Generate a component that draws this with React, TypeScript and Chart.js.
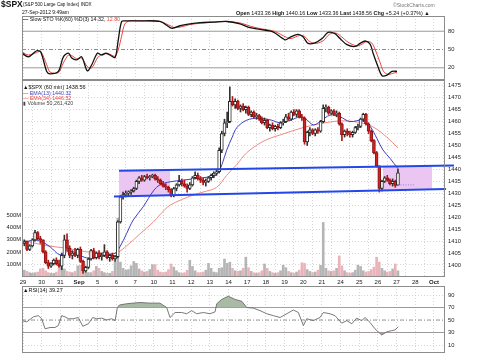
import React, { useEffect, useRef } from "react";
import { Chart, registerables } from "chart.js";
Chart.register(...registerables);

const FONT = '"Liberation Sans", Arial, sans-serif';

const dayLabels = ["29","30","31","Sep","5","6","7","10","11","12","13","14","17","18","19","20","21","24","25","26","27","28","Oct"];
const BARS_PER_DAY = 7;
const XMIN = -0.054;
const XMAX = 22.59;

// 60-minute candles, 7 per day (Aug 29 .. Sep 27 first bar)
const opens = [
  1409,1409.8,1406.5,1408,1410.5,1413.5,1411,
  1410.5,1405.5,1401,1399.5,1400.5,1402,1400.5,
  1399.5,1404,1410.5,1407,1404,1405,1404,
  1406.5,1401.5,1397.5,1399,1402.5,1406,1403,
  1405,1403.5,1404,1405.5,1403,1404,1402.5,
  1403.5,1418,1428.5,1429.5,1430,1430.5,1431,
  1432,1435,1436.5,1435.5,1437,1436.5,1437,
  1437.5,1436,1435.5,1434,1433,1432.5,1431.5,
  1429,1432,1433.5,1435,1434,1433,1432,
  1433.5,1436.5,1437.5,1436,1435.5,1434.5,1435,
  1436.5,1437.5,1438.5,1439,1448,1455,1459.5,
  1460,1468.5,1467,1468.5,1465.5,1466.5,1465,
  1466,1463,1464,1462,1462.5,1461,1459.5,
  1460.5,1457.5,1458.5,1457,1458,1457.5,1459.5,
  1460,1462,1461,1464,1463,1464.5,1462,
  1461.5,1451.5,1455.5,1456.5,1455,1456.5,1456,
  1460,1465.5,1466,1463.5,1464.5,1463,1463.5,
  1459,1454.5,1456,1455,1454.5,1455.5,1457.5,
  1458,1461,1463,1459,1456,1452,1447,
  1441.5,1432,1435,1436.5,1435.5,1434,1435,
  1433.36
];
const highs = [
  1410.5,1410,1408.5,1411,1414.5,1414,1412,
  1410.5,1406,1402,1401,1402.5,1403,1402,
  1405,1412.5,1413,1408,1406,1407,1407,
  1407.5,1402,1399.5,1403,1406.5,1407,1405.5,
  1406,1405,1408.5,1406,1404.5,1405,1404,
  1418.5,1429,1430.5,1431,1431,1431.5,1432.5,
  1435.5,1437,1437.5,1437.5,1438,1437.5,1438,
  1438,1437,1436,1435,1434,1433,1432,
  1432.5,1434,1437.5,1436,1435.5,1434,1434.5,
  1437,1439,1438.5,1437,1436.5,1436,1437,
  1438,1439,1440,1449,1456,1461,1464,
  1474.5,1470.5,1469.5,1469,1467,1467.5,1466.5,
  1466.5,1464.5,1464.5,1463.5,1463,1462,1461.5,
  1461,1459,1459.5,1458.5,1459,1460,1461,
  1463,1463.5,1464.5,1465,1465,1465,1463,
  1462,1456,1457.5,1457,1457,1457.5,1460.5,
  1467,1467,1466.5,1465,1465,1464.5,1464,
  1459.5,1456.5,1457,1456,1456,1458,1459,
  1461.5,1463.5,1463.5,1459.5,1456.5,1452.5,1447.5,
  1441.5,1435.5,1437,1437.5,1436,1436,1435.5,
  1440.16
];
const lows = [
  1408,1406,1406,1407.5,1410,1410.5,1409,
  1405,1400.5,1398.5,1399,1400,1400,1399,
  1398,1403,1406,1403,1402.5,1403.5,1403,
  1401,1396.5,1397,1398.5,1402,1402.5,1402.5,
  1402.5,1402,1403.5,1402.5,1401.5,1402,1401.5,
  1403,1417.5,1427.5,1428.5,1429,1429.5,1430.5,
  1431.5,1434,1435,1435,1436,1435.5,1436.5,
  1435.5,1434.5,1433.5,1432.5,1431.5,1430.5,1428.5,
  1428.5,1431,1433,1433,1432.5,1430.5,1431.5,
  1433,1436,1435.5,1434.5,1433.5,1433,1434.5,
  1435.5,1436.5,1437.5,1438.5,1447,1454,1457.5,
  1459.5,1466.5,1465.5,1465,1464,1464.5,1463.5,
  1462.5,1462,1461.5,1461,1460.5,1459,1458.5,
  1457,1456,1456.5,1456,1456.5,1457,1458.5,
  1459.5,1460.5,1460.5,1462.5,1462,1461.5,1460.5,
  1450.5,1450,1454,1454.5,1454,1455,1455.5,
  1459.5,1464,1463,1463,1462.5,1462,1458.5,
  1452,1453.5,1454,1453.5,1453.5,1455,1456.5,
  1457.5,1460,1458.5,1455,1451.5,1446.5,1441,
  1430.5,1431,1434.5,1435,1433.5,1433,1432.5,
  1433.36
];
const closes = [
  1409.8,1406.5,1408,1410.5,1413.5,1411,1410.5,
  1405.5,1401,1399.5,1400.5,1402,1400.5,1399.5,
  1404,1410.5,1407,1404,1405,1404,1406.5,
  1401.5,1397.5,1399,1402.5,1406,1403,1405,
  1403.5,1404,1405.5,1403,1404,1402.5,1403.5,
  1418,1428.5,1429.5,1430,1430.5,1431,1432,
  1435,1436.5,1435.5,1437,1436.5,1437,1437.5,
  1436,1435.5,1434,1433,1432.5,1431.5,1429,
  1432,1433.5,1435,1434,1433,1432,1433.5,
  1436.5,1437.5,1436,1435.5,1434.5,1435,1436.5,
  1437.5,1438.5,1439,1448,1455,1459.5,1460,
  1468.5,1467,1468.5,1465.5,1466.5,1465,1466,
  1463,1464,1462,1462.5,1461,1459.5,1460.5,
  1457.5,1458.5,1457,1458,1457.5,1459.5,1460,
  1462,1461,1464,1463,1464.5,1462,1461.5,
  1451.5,1455.5,1456.5,1455,1456.5,1456,1460,
  1465.5,1466,1463.5,1464.5,1463,1463.5,1459,
  1454.5,1456,1455,1454.5,1455.5,1457.5,1458,
  1461,1463,1459,1456,1452,1447,1441.5,
  1432,1435,1436.5,1435.5,1434,1435,1433.3,
  1438.56
];
// volume in millions
const volumes = [
  55,45,35,30,35,40,65,
  70,50,35,30,30,40,70,
  110,65,45,40,35,45,90,
  95,60,45,35,35,50,85,
  70,45,35,30,30,45,120,
  475,120,70,55,60,90,125,
  110,65,50,40,45,60,100,
  100,55,40,35,40,60,105,
  80,50,35,30,35,55,135,
  85,50,35,35,40,55,110,
  70,40,35,70,75,145,110,
  120,70,50,45,50,70,160,
  75,45,35,30,35,50,105,
  70,45,35,30,35,50,95,
  75,45,35,30,40,55,115,
  110,60,45,35,40,55,95,
  440,70,50,45,50,70,170,
  90,50,35,30,35,55,95,
  85,50,40,45,60,80,160,
  120,70,50,40,45,65,105,
  50
];

const ema13X = [-0.07,0.55,1.0,1.45,1.98,2.34,2.69,3.05,3.5,3.95,4.48,4.93,5.19,5.55,5.9,6.44,6.98,7.33,7.87,8.58,9.3,10.01,10.37,10.65,10.9,11.2,11.45,11.98,12.6,13.3,13.75,14.3,14.83,15.1,15.54,15.9,16.44,16.97,17.5,18.22,18.6,18.94,19.27,19.65,20.07];
const ema13 = [1409,1410.4,1409.7,1407.6,1404.2,1405.5,1405.5,1404,1402.8,1403.2,1404.2,1404.9,1407.6,1413.2,1418.8,1424.4,1431,1433.5,1434.8,1435.5,1436.2,1436.9,1437.8,1442,1448,1453.5,1457.5,1460.6,1461.4,1460.6,1459.5,1460.5,1462,1461.4,1458.6,1460,1462.7,1462,1460,1460.6,1457.8,1453,1448.1,1444.6,1440.3];
const ema34X = [0.02,1.09,2.34,3.41,4.48,5.02,5.55,6.26,6.98,7.33,7.87,9.12,9.64,10.37,10.9,11.44,11.98,12.69,13.22,13.76,15.0,16.17,17.15,18.22,18.84,19.47,20.07];
const ema34 = [1410.4,1408.3,1407,1405.5,1404.9,1405.1,1408,1413,1418,1421,1425,1429.3,1430.5,1432.5,1437.5,1442,1447,1451,1453,1454.4,1457.5,1459.5,1460.3,1459.3,1457.3,1453.5,1449];

const upperChannelX = [5.14, 23.07];
const upperChannel = [1439.4, 1441.6];
const lowerChannelX = [4.87, 22.64];
const lowerChannel = [1428.6, 1431.8];
const leftBoxX = [5.14, 7.87];
const leftBoxTop = [1439.4, 1439.7];
const leftBoxBottom = [1428.7, 1429.2];
const rightBoxX = [19.27, 21.9];
const rightBoxTop = [1441.1, 1441.4];
const rightBoxBottom = [1431.5, 1431.8];
const pivotX = [20.07, 20.98];
const pivot = [1433.5, 1433.5];

const priceTicks = [1400,1405,1410,1415,1420,1425,1430,1435,1440,1445,1450,1455,1460,1465,1470,1475];
const volumeTicks = [100,200,300,400,500];

const stoX = [-0.05,0.29,0.73,0.95,1.27,1.45,1.89,2.16,2.43,2.61,2.87,3.14,3.44,3.68,3.98,4.21,4.44,4.66,4.93,5.1,5.28,5.5,6.26,7.33,7.87,8.03,8.4,8.94,9.48,10.17,10.92,11.62,12.15,12.69,13.38,14.03,14.29,14.72,14.99,15.26,15.63,16.01,16.33,16.7,16.97,17.34,17.77,18.04,18.31,18.58,18.74,19.0,19.22,19.49,19.75,20.02];
const stoK = [44,38,48,46,14,10,14,38,44,36,33,38,15,25,44,41,44,41,37,66,96,97,97,96,86,85,89,92,94,95,96,92,86,83,79,66,70,75,71,60,61,68,78,76,68,58,55,60,64,59,44,22,7,8,14,14.32];
const stoDX = [-0.05,0.29,0.73,0.95,1.27,1.45,1.89,2.16,2.43,2.61,2.87,3.14,3.44,3.68,3.98,4.21,4.44,4.66,4.93,5.1,5.28,5.45,5.7,6.26,7.33,7.95,8.1,8.45,8.94,9.48,10.17,10.92,11.7,12.2,12.75,13.45,14.1,14.35,14.8,15.05,15.35,15.7,16.1,16.4,16.75,17.05,17.4,17.85,18.1,18.4,18.66,18.85,19.1,19.3,19.55,19.8,20.02];
const stoD = [46,41,45,47,25,13,12,28,41,40,35,36,22,20,36,42,43,42,39,50,72,92,97,97,96,88,86,87,91,93,95,96,93,88,84,80,70,68,73,72,63,60,65,75,77,71,62,56,58,63,61,50,30,14,9,11,12.8];
const stoTicks = [20,50,80];
const stoLevels = [80,50,20];

const rsiX = [-0.05,0.2,0.55,0.82,1.0,1.18,1.45,1.71,1.89,2.07,2.25,2.43,2.69,2.96,3.2,3.5,3.73,3.95,4.21,4.48,4.75,4.93,5.05,5.16,5.55,6.26,6.8,7.33,7.69,7.87,8.14,8.5,8.76,9.03,9.3,9.65,10.01,10.28,10.37,10.64,10.99,11.35,11.71,11.98,12.33,12.69,13.05,13.4,13.76,14.12,14.47,14.74,15.01,15.19,15.54,15.9,16.08,16.43,16.7,17.06,17.33,17.6,17.86,18.13,18.31,18.58,18.84,19.2,19.47,19.74,19.91,20.09];
const rsi = [49,47,55,57,52,36,38,38,41,57,55,52,52,54,40,44,54,52,53,50,52,49,70,74,76,78,77,77,70,54,62,62,60,65,60,62,60,63,76,83,88,83,80,70,69,65,60,57,54,60,66,62,41,52,49,54,62,60,57,45,49,44,53,49,54,46,36,26,31,33,34,39.27];
const rsiTicks = [10,30,50,70,90];
const rsiLevels = [70,50,30];

const pts = (xs: number[], ys: number[]) => xs.map((x, i) => ({ x, y: ys[i] }));

const framePlugin = {
  id: "frame",
  afterDraw(chart: any) {
    const { ctx, chartArea } = chart;
    ctx.save();
    ctx.strokeStyle = "#8c8c8c";
    ctx.lineWidth = 1;
    ctx.strokeRect(
      Math.round(chartArea.left) + 0.5,
      Math.round(chartArea.top) + 0.5,
      Math.round(chartArea.right - chartArea.left) - 1,
      Math.round(chartArea.bottom - chartArea.top) - 1
    );
    ctx.restore();
  },
};

const xScale = (showLabels: boolean) => ({
  type: "linear",
  min: XMIN,
  max: XMAX,
  offset: false,
  afterBuildTicks: (s: any) => {
    s.ticks = dayLabels.map((_, i) => ({ value: i }));
  },
  grid: { display: true, color: "#c4c4c4", lineWidth: 0.7, drawTicks: false },
  border: { display: false, dash: [1, 2] },
  ticks: {
    display: showLabels,
    autoSkip: false,
    maxRotation: 0,
    padding: 2,
    color: "#222",
    font: (c: any) => {
      const lbl = c.tick ? dayLabels[Math.round(c.tick.value)] : "";
      return { family: FONT, size: 6, weight: lbl === "Sep" || lbl === "Oct" ? "bold" : "normal" };
    },
    callback: (v: any) => dayLabels[Math.round(Number(v))],
  },
  afterFit: (s: any) => {
    s.height = showLabels ? 9 : 0;
    s.paddingLeft = 0;
    s.paddingRight = 0;
  },
});

const rightAxis = (min: number, max: number, ticks: number[], grid: boolean) => ({
  type: "linear",
  position: "right",
  min,
  max,
  afterBuildTicks: (s: any) => {
    s.ticks = ticks.map((v) => ({ value: v }));
  },
  grid: { display: grid, color: "#c4c4c4", lineWidth: 0.7, drawTicks: false },
  border: { display: false, dash: [1, 2] },
  ticks: { padding: 3, color: "#222", font: { family: FONT, size: 5.8 }, callback: (v: any) => String(v) },
  afterFit: (s: any) => {
    s.width = 35;
    s.paddingTop = 0;
    s.paddingBottom = 0;
  },
});

const baseOptions = {
  responsive: false,
  animation: false as const,
  events: [] as any[],
  layout: { padding: { left: 22, top: 0, right: 0, bottom: 0 } },
  plugins: { legend: { display: false }, tooltip: { enabled: false } },
};

export default function App() {
  const stoRef = useRef<HTMLCanvasElement>(null);
  const mainRef = useRef<HTMLCanvasElement>(null);
  const rsiRef = useRef<HTMLCanvasElement>(null);

  useEffect(() => {
    Chart.defaults.font.family = FONT;
    const charts: Chart[] = [];
    const fullX = [XMIN, XMAX];

    // ---------- Slow STO panel ----------
    charts.push(
      new Chart(stoRef.current as HTMLCanvasElement, {
        type: "line",
        data: {
          datasets: [
            ...stoLevels.map((lv) => ({
              data: pts(fullX, [lv, lv]),
              borderColor: lv === 50 ? "#8a8a8a" : "#9a9a9a",
              borderWidth: 1,
              borderDash: lv === 50 ? [4, 2, 1, 2] : [],
              pointRadius: 0,
              order: 10,
            })),
            { data: pts(stoDX, stoD), borderColor: "#e8453c", borderWidth: 1, pointRadius: 0, tension: 0.3, order: 2 },
            { data: pts(stoX, stoK), borderColor: "#111", borderWidth: 1.3, pointRadius: 0, tension: 0.3, order: 1 },
          ],
        },
        options: {
          ...baseOptions,
          layout: { padding: { left: 22, top: 16, right: 0, bottom: 0 } },
          scales: { x: xScale(false), y: rightAxis(0, 105, stoTicks, false) },
        } as any,
        plugins: [framePlugin],
      })
    );

    // ---------- Price panel ----------
    const barX = closes.map((_, i) => Math.floor(i / BARS_PER_DAY) + ((i % BARS_PER_DAY) + 0.5) / BARS_PER_DAY);
    const down = closes.map((c, i) => c < opens[i]);
    const boxBg = "#ecc6f3";
    charts.push(
      new Chart(mainRef.current as HTMLCanvasElement, {
        type: "bar",
        data: {
          datasets: [
            { type: "line", data: pts(leftBoxX, leftBoxTop), borderWidth: 0, pointRadius: 0, fill: false, order: 30 },
            { type: "line", data: pts(leftBoxX, leftBoxBottom), borderWidth: 0, pointRadius: 0, fill: "-1", backgroundColor: boxBg, order: 30 },
            { type: "line", data: pts(rightBoxX, rightBoxTop), borderWidth: 0, pointRadius: 0, fill: false, order: 30 },
            { type: "line", data: pts(rightBoxX, rightBoxBottom), borderWidth: 0, pointRadius: 0, fill: "-1", backgroundColor: boxBg, order: 30 },
            {
              type: "bar",
              yAxisID: "yv",
              data: barX.map((x, i) => ({ x, y: volumes[i] })),
              backgroundColor: down.map((d) => (d ? "#e9b3ba" : "#b5b5b5")),
              barThickness: 2,
              grouped: false,
              order: 20,
            },
            { type: "line", data: pts(ema34X, ema34), borderColor: "#f08a80", borderWidth: 1, pointRadius: 0, tension: 0.35, order: 12 },
            { type: "line", data: pts(ema13X, ema13), borderColor: "#3a3fc0", borderWidth: 1, pointRadius: 0, tension: 0.35, order: 11 },
            {
              type: "bar",
              yAxisID: "y",
              data: barX.map((x, i) => ({ x, y: [lows[i], highs[i]] })),
              backgroundColor: down.map((d) => (d ? "#b01818" : "#333")),
              barThickness: 1,
              grouped: false,
              borderSkipped: false,
              order: 6,
            },
            {
              type: "bar",
              yAxisID: "y",
              data: barX.map((x, i) => ({ x, y: [Math.min(opens[i], closes[i]), Math.max(opens[i], closes[i])] })),
              backgroundColor: down.map((d) => (d ? "#cc2424" : "#ffffff")),
              borderColor: down.map((d) => (d ? "#8e1414" : "#2a2a2a")),
              borderWidth: 1,
              borderSkipped: false,
              minBarLength: 1,
              barThickness: 3,
              grouped: false,
              order: 5,
            },
            { type: "line", data: pts(pivotX, pivot), borderColor: "#9a7ad8", borderWidth: 1, borderDash: [1, 1.5], pointRadius: 0, order: 3 },
            { type: "line", data: pts(upperChannelX, upperChannel), borderColor: "#2448e8", borderWidth: 2, pointRadius: 0, clip: false, order: 1 },
            { type: "line", data: pts(lowerChannelX, lowerChannel), borderColor: "#2448e8", borderWidth: 2, pointRadius: 0, clip: false, order: 1 },
          ],
        },
        options: {
          ...baseOptions,
          layout: { padding: { left: 0, top: 0, right: 0, bottom: 0 } },
          scales: {
            x: xScale(true),
            y: rightAxis(1394.96, 1477.4, priceTicks, true),
            yv: {
              type: "linear",
              position: "left",
              min: 0,
              max: 1590,
              afterBuildTicks: (s: any) => {
                s.ticks = volumeTicks.map((v) => ({ value: v }));
              },
              grid: { display: false, drawTicks: false },
              border: { display: false },
              ticks: { padding: 1, color: "#222", font: { family: FONT, size: 5.8 }, callback: (v: any) => v + "M" },
              afterFit: (s: any) => {
                s.width = 22;
                s.paddingTop = 0;
                s.paddingBottom = 0;
              },
            },
          },
        } as any,
        plugins: [framePlugin],
      })
    );

    // ---------- RSI panel ----------
    charts.push(
      new Chart(rsiRef.current as HTMLCanvasElement, {
        type: "line",
        data: {
          datasets: [
            ...rsiLevels.map((lv) => ({
              data: pts(fullX, [lv, lv]),
              borderColor: "#9a9a9a",
              borderWidth: 1,
              borderDash: lv === 50 ? [4, 2, 1, 2] : [],
              pointRadius: 0,
              order: 10,
            })),
            {
              data: pts(rsiX, rsi),
              borderWidth: 0,
              pointRadius: 0,
              fill: { target: { value: 70 }, above: "#a9bba4", below: "rgba(0,0,0,0)" },
              order: 8,
            },
            {
              data: pts(rsiX, rsi),
              borderWidth: 0,
              pointRadius: 0,
              fill: { target: { value: 30 }, above: "rgba(0,0,0,0)", below: "#b996ad" },
              order: 8,
            },
            { data: pts(rsiX, rsi), borderColor: "#6a6a6a", borderWidth: 0.9, pointRadius: 0, order: 1 },
          ],
        },
        options: {
          ...baseOptions,
          scales: { x: xScale(false), y: rightAxis(-2.8, 104.4, rsiTicks, true) },
        } as any,
        plugins: [framePlugin],
      })
    );

    return () => charts.forEach((c) => c.destroy());
  }, []);

  const abs = (left: number, top: number, size: number, extra: any = {}) => ({
    position: "absolute" as const,
    left,
    top,
    fontSize: size,
    lineHeight: 1,
    whiteSpace: "nowrap" as const,
    color: "#111",
    ...extra,
  });

  return (
    <div style={{ position: "fixed", left: 0, top: 0, width: 480, height: 353, overflow: "hidden", background: "#fff", fontFamily: FONT }}>
      <canvas ref={stoRef} width={480} height={80} style={{ position: "absolute", left: 0, top: 0 }} />
      <canvas ref={mainRef} width={480} height={206} style={{ position: "absolute", left: 0, top: 80 }} />
      <canvas ref={rsiRef} width={480} height={67} style={{ position: "absolute", left: 0, top: 286 }} />

      <div style={abs(1, 0, 8.5, { fontWeight: "bold" })}>$SPX</div>
      <div style={abs(23, 3, 4.6)}>(S&amp;P 500 Large Cap Index) INDX</div>
      <div style={abs(22, 9.5, 5)}>27-Sep-2012 9:49am</div>
      <div style={abs(393, 3, 5, { color: "#777" })}>©StockCharts.com</div>
      <div style={abs(236, 10.5, 5.4)}>
        <b>Open</b> 1433.36 <b>High</b> 1440.16 <b>Low</b> 1433.36 <b>Last</b> 1438.56 <b>Chg</b> +5.24 (+0.37%) ▲
      </div>
      <div style={abs(23, 16.8, 5.3)}>
        <span style={{ fontWeight: "bold" }}>—</span> Slow STO %K(60) %D(3) 14.32, <span style={{ color: "#e8453c" }}>12.80</span>
      </div>

      <div style={abs(23, 85, 5.5)}>▲$SPX (60 min) 1438.56</div>
      <div style={abs(23, 90.5, 5.3, { color: "#3a3fc0" })}>— EMA(13) 1440.32</div>
      <div style={abs(23, 95.5, 5.3, { color: "#e8453c" })}>— EMA(34) 1446.52</div>
      <div style={abs(23, 100.5, 5.3, { color: "#444" })}>▮ Volume 50,261,420</div>

      <div style={abs(23, 288, 5.5)}>▲RSI(14) 39.27</div>
    </div>
  );
}
